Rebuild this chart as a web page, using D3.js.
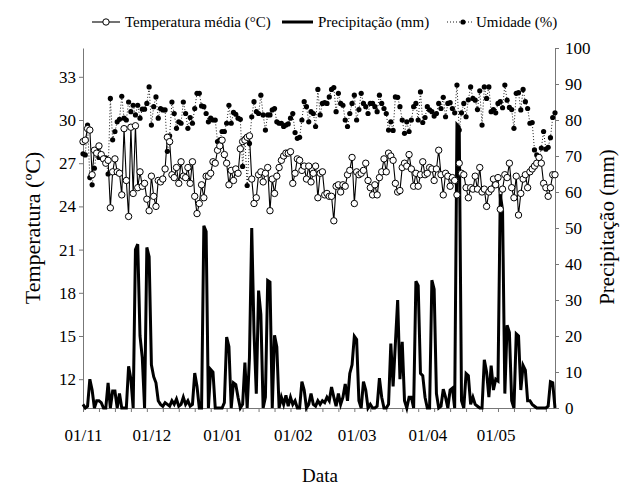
<!DOCTYPE html>
<html>
<head>
<meta charset="utf-8">
<script src="https://cdn.jsdelivr.net/npm/d3@7"></script>
<style>
body{margin:0;background:#fff;}
</style>
</head>
<body>
<div id="chart"></div>
<script>
// dados diarios, 01/11 ate 27/05
const inicio = new Date(2014, 10, 1)

const temperatura = [
28.5,28.6,29.4,29.3,26.2,27.9,27.7,28.2,27.6,27.3,27.0,27.2,23.9,26.4,27.3,26.4,26.3,24.8,29.4,25.8,
23.3,29.5,24.9,29.6,25.3,26.4,25.4,25.6,24.5,23.7,
26.1,24.7,24.0,25.8,25.7,25.9,26.6,28.8,28.5,26.2,26.0,26.7,25.6,27.1,26.1,26.0,26.7,25.6,27.1,24.7,
23.5,24.2,25.5,24.6,26.1,26.1,26.3,27.1,27.0,27.9,28.2,
28.6,27.6,27.0,25.5,26.5,25.8,26.6,26.3,28.0,28.5,28.6,28.8,28.9,
25.9,24.2,24.6,26.2,26.4,25.7,26.3,26.7,23.7,25.9,24.9,26.1,26.7,27.2,27.5,27.7,27.7,27.8,25.6,26.3,
27.3,27.2,26.5,26.8,25.9,26.8,25.7,26.3,26.8,24.6,26.3,26.4,24.8,24.9,24.7,24.7,23.0,25.4,25.5,25.0,
25.5,25.4,26.2,26.5,27.4,24.2,26.4,26.2,26.3,26.5,27.0,25.8,25.3,24.8,25.5,24.8,26.0,26.4,27.3,26.4,
27.7,27.5,27.2,25.6,25.0,25.1,26.7,27.0,26.8,27.6,26.6,25.4,26.3,25.4,26.2,
27.1,26.2,26.3,26.7,26.6,25.8,26.6,27.9,26.2,24.8,26.3,26.1,25.4,26.0,25.8,24.8,27.0,26.3,26.2,25.3,
24.6,25.3,25.2,26.1,25.2,26.7,25.0,25.2,24.0,25.0,25.2,25.9,25.5,26.0,23.8,25.2,26.2,26.0,27.0,25.3,
24.6,26.1,23.4,24.9,25.9,26.2,25.3,26.4,26.6,26.8,27.0,27.4,27.0,25.6,25.3,24.7,25.3,26.2,26.2
]

const precipitacao = [
1,0,0.5,8,5,0,2,2,1.5,0,0,7,0,4.7,4.7,0,4,0,0,0,
11.6,8,0,44,45.5,20,14,0,44.6,42,12,8.7,7,2,1,0.5,1.5,1,0.5,2,
1,2.5,0.5,1,3,1,2,0.5,1,9.7,6,0,0,50.6,49,0,10.7,10,0,0,
0,0,1.5,19.7,17,0,7,6.5,3,0,1,12.6,0,14,50,21,4,32.6,26,0,
3,35.4,35,0,20.2,17,0,3,1,3.5,0.5,3,1,2,0,0,7.3,5,0,1,
4,1,0.5,2,1,2,1.5,3,2,5.8,3,0.5,4,1,3,6.7,2,9.6,12,19.9,
19,2,0,7.3,5,0,1,0,0,0.5,8.3,3,0,0,1,17.9,6,18,30,8,
18.4,2,0,3,3,0,35.2,34,9.6,9,3,0,0,35.5,33,4,0,0.5,5.2,3,
0,5,5.5,0,78.7,78,2,0,9.6,9,1,3,1,0.5,0,0,13.4,10,3,11.8,
5,8,7.5,59.4,55,4,23,21,2,0,20.6,20,5,11.8,10.5,2,2,1,0.5,0,
0,0,0,0,0.5,7.3,7,0
]

const umidade = [
70.6,70.3,78.6,64,62,66.6,71.5,69.6,70.3,69,69.5,65,86,74.5,76.8,79.5,80.2,86.6,80.5,80,
85,82.3,84.1,81.4,84.1,80.5,83,83,84.6,89.2,78.6,83.7,86.4,80.5,83.2,82.8,82.8,71.3,75.6,85,
81.8,77.7,79.5,79.1,85,81.8,77.7,80.7,79.1,83.2,87.4,87.4,83.9,83.7,81.8,79.5,80.5,80,80,74,
74.5,76.8,76.8,79.1,84.1,79.1,82.1,81.6,80.5,80.2,67.1,74.9,61.8,73.5,
80.9,85.1,82.3,81.8,86.9,81.4,77.2,81.4,81.4,82.8,83.2,79.5,79.1,79.1,78.2,78.6,78.9,80.5,81.8,76.5,
74.9,75.2,80,85.1,83.7,79.5,82.3,81.8,78.2,88.5,81.4,84.6,84.8,84.6,86.4,88.5,89,82.3,87.4,84.6,
84.1,80,78.2,81.8,84.6,86.9,80,82.9,87.4,84.6,83.7,81.8,84.6,84.6,83.7,82.3,86.9,84.6,83.2,81.8,
77.2,79.5,77.1,86.4,86.3,83.7,80,76.3,79.5,76.8,80,83.7,84.6,80,87.8,
79.3,80.7,83.7,82.8,82.3,81.1,81.8,84.6,83.2,86.3,80.9,84.6,84.8,83.2,82.0,89.7,77.2,82.0,84.6,80.9,
85.6,89.2,86.0,85.5,82.9,88.1,78.6,89.2,86.0,89.2,82.3,82.9,82.0,84.6,85.1,83.4,89.7,85.5,83.5,82.9,
77.7,87.4,87.6,82.8,88.5,85.1,83.2,79.1,79.3,71.7,70.3,68.5,72.2,76.8,71.9,72.4,75.1,80.7,82.0
]

const ticksTemp = [12,15,18,21,24,27,30,33]
const ticksMm = [0,10,20,30,40,50,60,70,80,90,100]
const rotulosMes = ["01/11","01/12","01/01","01/02","01/03","01/04","01/05"]

const legendaNomes = ["Temperatura média (°C)","Precipitação (mm)","Umidade (%)"]

let fonte = "'Liberation Serif','Times New Roman',Times,serif"
let W=623, H=488
let svg = d3.select("#chart").append("svg").attr("width",W).attr("height",H)
	.attr("font-family",fonte).style("font-family",fonte)

let datas = temperatura.map((v,i)=>d3.timeDay.offset(inicio,i))

let x = d3.scaleTime().domain([datas[0],datas[datas.length-1]]).range([83,555])
let yT = d3.scaleLinear().domain([10,35]).range([408,48])
let yR = d3.scaleLinear().domain([0,100]).range([408,48])

// eixos
let cinza="#777"
function estilo(g){
	g.attr("font-family",fonte)
	g.selectAll("path,line").attr("stroke",cinza)
	g.selectAll("text").attr("fill","#000").attr("font-family",fonte)
		.style("font-family",fonte).style("font-size","17px")
}

svg.append("g").attr("transform","translate(83,0)")
	.call(d3.axisLeft(yT).tickValues(ticksTemp).tickSize(4).tickSizeOuter(0).tickPadding(3))
	.call(estilo)

svg.append("g").attr("transform","translate(555,0)")
	.call(d3.axisRight(yR).tickValues(ticksMm).tickSize(4).tickSizeOuter(0).tickPadding(6))
	.call(estilo)

// pequenas marcas semanais
let semanas=[]
for(let i=0;i<datas.length;i+=7) semanas.push(datas[i])
svg.append("g").attr("transform","translate(0,408)")
	.call(d3.axisBottom(x).tickValues(semanas).tickFormat("").tickSize(4).tickSizeOuter(0))
	.call(estilo)

let meses = rotulosMes.map(r=>{
	let p=r.split("/")
	let m=+p[1]-1
	return new Date(m>=10?2014:2015,m,+p[0])
})
svg.append("g").attr("transform","translate(0,408)")
	.call(d3.axisBottom(x).tickValues(meses).tickFormat((d,i)=>rotulosMes[i]).tickSize(0).tickPadding(21))
	.call(estilo)
	.select(".domain").remove()

// precipitacao
svg.append("path").datum(precipitacao)
	.attr("fill","none").attr("stroke","#000").attr("stroke-width",3)
	.attr("d",d3.line().x((d,i)=>x(datas[i])).y(d=>yR(d)))

// umidade
svg.append("path").datum(umidade)
	.attr("fill","none").attr("stroke","#000").attr("stroke-width",0.9)
	.attr("stroke-dasharray","1,2")
	.attr("d",d3.line().x((d,i)=>x(datas[i])).y(d=>yR(d)))
svg.append("g").selectAll("circle").data(umidade).join("circle")
	.attr("cx",(d,i)=>x(datas[i])).attr("cy",d=>yR(d)).attr("r",2.6).attr("fill","#000")

// temperatura
svg.append("path").datum(temperatura)
	.attr("fill","none").attr("stroke","#000").attr("stroke-width",1.1)
	.attr("d",d3.line().x((d,i)=>x(datas[i])).y(d=>yT(d)))
svg.append("g").selectAll("circle").data(temperatura).join("circle")
	.attr("cx",(d,i)=>x(datas[i])).attr("cy",d=>yT(d)).attr("r",3.2)
	.attr("fill","#fff").attr("stroke","#000").attr("stroke-width",1)

// titulos
svg.append("text").attr("transform","translate(40,228) rotate(-90)")
	.attr("text-anchor","middle").style("font-size","22px").text("Temperatura (ºC)")
svg.append("text").attr("transform","translate(614,227) rotate(-90)")
	.attr("text-anchor","middle").style("font-size","21px").text("Precipitação (mm)")
svg.append("text").attr("x",320).attr("y",482)
	.attr("text-anchor","middle").style("font-size","19px").text("Data")

// legenda
let leg=svg.append("g").attr("transform","translate(0,22)")
leg.append("line").attr("x1",92).attr("x2",120).attr("stroke","#000").attr("stroke-width",1.1)
leg.append("circle").attr("cx",106).attr("r",3.2).attr("fill","#fff").attr("stroke","#000")
leg.append("text").attr("x",125).attr("y",5).style("font-size","15px").text(legendaNomes[0])
leg.append("line").attr("x1",282).attr("x2",313).attr("stroke","#000").attr("stroke-width",3)
leg.append("text").attr("x",318).attr("y",5).style("font-size","15px").text(legendaNomes[1])
leg.append("line").attr("x1",447).attr("x2",474).attr("stroke","#000").attr("stroke-width",0.9).attr("stroke-dasharray","1,2")
leg.append("circle").attr("cx",463).attr("r",2.6).attr("fill","#000")
leg.append("text").attr("x",476).attr("y",5).style("font-size","15px").text(legendaNomes[2])
</script>
</body>
</html>
